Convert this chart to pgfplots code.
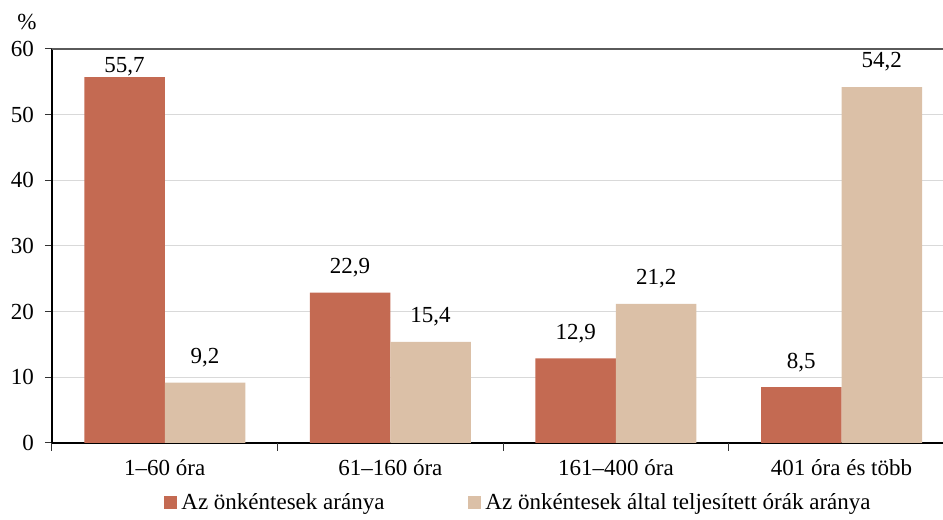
\documentclass[border=0pt]{standalone}
\usepackage{fontspec}
\setmainfont{Liberation Serif}
\usepackage{pgfplots}
\pgfplotsset{compat=1.18}
\usepackage{pgfplotstable}

\definecolor{vred}{RGB}{196,106,82}
\definecolor{vtan}{RGB}{219,192,167}
\definecolor{gridgray}{RGB}{217,217,217}
\definecolor{topgray}{RGB}{90,90,90}
\newcommand\f{\fontsize{11.5pt}{13pt}\selectfont}

% x: category index, y: percent, lab: printed value, off: label lift (pt)
\pgfplotstableread{
x y lab off
0 55.7 55,7 5
1 22.9 22,9 12.5
2 12.9 12,9 12.5
3 8.5 8,5 12.5
}\arany
\pgfplotstableread{
x y lab off
0 9.2 9,2 12.5
1 15.4 15,4 12.5
2 21.2 21,2 12.5
3 54.2 54,2 12.5
}\orak

\begin{document}
\begin{tikzpicture}
\begin{axis}[
  name=ax,
  scale only axis, width=445.5pt, height=197pt,
  xmin=-0.5, xmax=3.45, ymin=0, ymax=60,
  ybar=0pt, bar width=40.25pt,
  axis lines*=left,
  axis line style={line width=1pt, black},
  tick align=outside,
  ytick={0,10,...,60},
  ymajorgrids, grid style={line width=0.5pt, gridgray},
  major tick length=3.5pt,
  tick style={line width=0.5pt, black!80},
  xtick={0,1,2,3},
  xticklabels={1–60 óra, 61–160 óra, 161–400 óra, 401 óra és több},
  major x tick style={draw=none},
  extra x ticks={-0.5,0.5,1.5,2.5},
  extra x tick labels={},
  extra x tick style={major x tick style={draw=black!80, line width=0.5pt}, major tick length=4pt, xmajorgrids=false},
  /pgf/number format/assume math mode=true,
  ticklabel style={font=\f},
  yticklabel style={xshift=-2pt},
  xticklabel style={yshift=-1pt},
  clip=false,
  point meta=explicit symbolic,
  visualization depends on={\thisrow{off} \as \off},
  nodes near coords,
  nodes near coords style={font=\f, anchor=center, yshift=\off pt},
  legend columns=2,
  legend style={draw=none, at={(0.1257,0)}, anchor=west, yshift=-30pt,
    inner sep=0pt, font=\f, /tikz/every even column/.append style={column sep=40pt}},
  legend image code/.code={\fill[#1] (0pt,-3.25pt) rectangle (6.5pt,3.25pt);},
]
\addplot[draw=none, fill=vred] table[x=x, y=y, meta=lab] {\arany};
\addplot[draw=none, fill=vtan] table[x=x, y=y, meta=lab] {\orak};
\legend{Az önkéntesek aránya, Az önkéntesek által teljesített órák aránya}
\draw[topgray, line width=0.75pt] (rel axis cs:0,1) -- (rel axis cs:1,1);
\node[font=\f] at ([xshift=-12.5pt, yshift=13.5pt]rel axis cs:0,1) {\%};
\end{axis}
\pgfresetboundingbox
\path ([xshift=-26pt, yshift=-38.5pt]ax.south west) rectangle ([yshift=24.5pt]ax.north east);
\end{tikzpicture}
\end{document}
